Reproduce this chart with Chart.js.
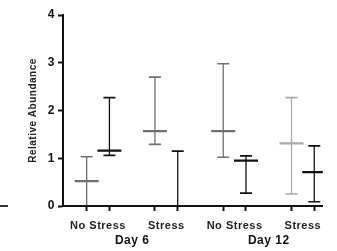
<!DOCTYPE html>
<html>
<head>
<meta charset="utf-8">
<script src="https://cdn.jsdelivr.net/npm/chart.js@4.4.1/dist/chart.umd.min.js"></script>
<style>
html,body{margin:0;padding:0;background:#fff;}
#wrap{width:337px;height:251px;position:relative;}
</style>
</head>
<body>
<div id="wrap"><canvas id="c" width="337" height="251"></canvas></div>
<script>
// ---- data ----
const categories = ['No Stress', 'Stress', 'No Stress', 'Stress'];
const dayLabels = ['Day 6', 'Day 12'];
const yTicks = [0, 1, 2, 3, 4];

const grayMedian = [0.52, 1.57, 1.57, 1.31];
const grayHigh   = [1.03, 2.70, 2.98, 2.27];
const grayLow    = [0.00, 1.29, 1.02, 0.25];

const blackMedian = [1.16, 0.00, 0.95, 0.71];
const blackHigh   = [2.27, 1.15, 1.05, 1.26];
const blackLow    = [1.06, 0.00, 0.27, 0.09];

// ---- styling ----
const grayColors = ['#707070', '#707070', '#707070', '#a9a9a9'];
const blackColor = '#111111';
const FONT = "'Liberation Sans', Arial, sans-serif";

// scale units: each category has two slots (gray, black); categories 3 units apart
const slot = (i, s) => i * 3 + s;

const datasets = [];
function addSeries(med, hi, lo, colorFor, s) {
  med.forEach((m, i) => {
    const x = slot(i, s);
    const col = colorFor(i);
    datasets.push({
      type: 'line', data: [{x, y: lo[i]}, {x, y: hi[i]}],
      borderColor: col, borderWidth: 1.3, pointRadius: 0, clip: 0
    });
    datasets.push({
      type: 'scatter', data: [{x, y: lo[i]}, {x, y: hi[i]}],
      pointStyle: 'line', pointRadius: 6, borderColor: col, borderWidth: 1.6, clip: 0
    });
    datasets.push({
      type: 'scatter', data: [{x, y: m}],
      pointStyle: 'line', pointRadius: 12, borderColor: col, borderWidth: 2.2, clip: 0
    });
  });
}
addSeries(grayMedian, grayHigh, grayLow, i => grayColors[i], 0);
addSeries(blackMedian, blackHigh, blackLow, () => blackColor, 1);

const markTicks = [];
categories.forEach((c, i) => { markTicks.push(slot(i, 0)); markTicks.push(slot(i, 1)); });
const catTicks = categories.map((c, i) => slot(i, 0.5));
const dayTicks = dayLabels.map((d, k) => (slot(2 * k, 0.5) + slot(2 * k + 1, 0.5)) / 2);

const X_MIN = -1.04, X_MAX = 10.375;

const spacingPlugin = {
  id: 'spacing',
  beforeDraw(chart) { chart.ctx.letterSpacing = '0.5px'; },
  afterDraw(chart) {
    // small axis-line fragment at far left, at the zero line
    const ctx = chart.ctx;
    const y = chart.scales.y.getPixelForValue(0);
    ctx.save();
    ctx.strokeStyle = '#333';
    ctx.lineWidth = 2;
    ctx.beginPath();
    ctx.moveTo(0, y);
    ctx.lineTo(8, y);
    ctx.stroke();
    ctx.restore();
  }
};

new Chart(document.getElementById('c'), {
  type: 'scatter',
  data: { datasets },
  plugins: [spacingPlugin],
  options: {
    responsive: false,
    animation: false,
    events: [],
    layout: { padding: { top: 15, right: 0, left: 0, bottom: 0 } },
    plugins: { legend: { display: false }, tooltip: { enabled: false } },
    scales: {
      x: {
        type: 'linear', position: 'bottom', min: X_MIN, max: X_MAX, weight: 0,
        afterBuildTicks: s => { s.ticks = markTicks.map(v => ({value: v})); },
        afterFit: s => { s.height = 5; },
        ticks: { display: false },
        grid: { z: 1, drawOnChartArea: false, drawTicks: true, tickLength: 5, tickWidth: 2, tickColor: '#111' },
        border: { z: 2, display: true, color: '#111', width: 2 }
      },
      xc: {
        type: 'linear', position: 'bottom', min: X_MIN, max: X_MAX, weight: 1,
        afterBuildTicks: s => { s.ticks = catTicks.map(v => ({value: v})); },
        afterFit: s => { s.height = 18; },
        ticks: {
          autoSkip: false, maxRotation: 0, padding: 8, color: '#222',
          font: { family: FONT, size: 11, weight: 'bold' },
          callback: (v, idx) => categories[idx]
        },
        grid: { display: false, drawTicks: false },
        border: { display: false }
      },
      xd: {
        type: 'linear', position: 'bottom', min: X_MIN, max: X_MAX, weight: 2,
        afterBuildTicks: s => { s.ticks = dayTicks.map(v => ({value: v})); },
        afterFit: s => { s.height = 22; },
        ticks: {
          autoSkip: false, maxRotation: 0, padding: 4, color: '#111',
          font: { family: FONT, size: 12, weight: 'bold' },
          callback: (v, idx) => dayLabels[idx]
        },
        grid: { display: false, drawTicks: false },
        border: { display: false }
      },
      y: {
        type: 'linear', min: 0, max: 4,
        afterBuildTicks: s => { s.ticks = yTicks.map(v => ({value: v})); },
        afterFit: s => { s.width = 63; },
        ticks: { padding: 3, color: '#111', font: { family: FONT, size: 12, weight: 'bold' } },
        grid: { z: 1, drawOnChartArea: false, drawTicks: true, tickLength: 5, tickWidth: 2, tickColor: '#111' },
        border: { z: 2, display: true, color: '#111', width: 2 },
        title: {
          display: true, text: 'Relative Abundance', color: '#222',
          font: { family: FONT, size: 10, weight: 'bold' },
          padding: { top: 27, bottom: 0 }
        }
      }
    }
  }
});
</script>
</body>
</html>
